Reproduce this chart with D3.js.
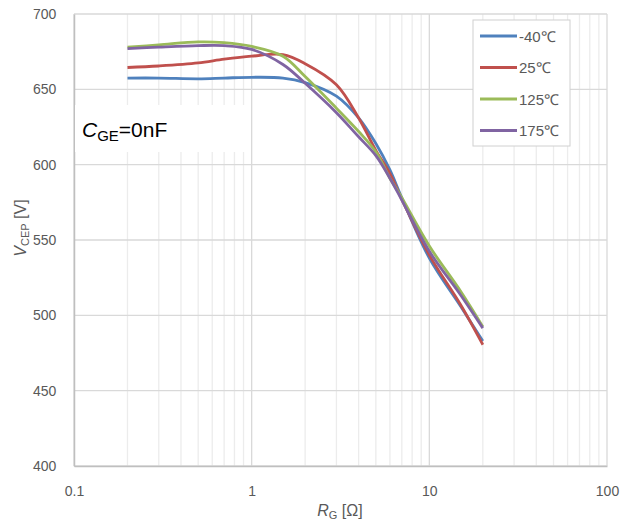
<!DOCTYPE html>
<html><head><meta charset="utf-8">
<script src="https://cdn.jsdelivr.net/npm/d3@7"></script>
<style>body{margin:0;background:#fff;} svg{display:block;font-family:"Liberation Sans",Arial,sans-serif;}</style>
</head><body>
<svg id="c" width="622" height="522"></svg>
<script>
const rg = [0.2, 0.3, 0.5, 0.7, 1, 1.5, 2, 3, 4, 5, 6, 7, 10, 15, 20];
const vM40 = [657.5, 657.5, 657, 657.5, 658, 657.5, 654.5, 645.5, 631, 614, 596.5, 578, 538, 506, 483];
const v25  = [664.5, 665.5, 667.5, 670, 672, 673, 667, 653, 631, 609.5, 594, 577, 540, 507, 480.5];
const v125 = [678, 679.5, 681.5, 681, 678.5, 672, 658.5, 637.5, 622, 608.5, 591, 578, 546, 516, 492.5];
const v175 = [677, 678, 679, 679, 676.5, 666.5, 654, 634.5, 618.5, 606, 591, 576.5, 542.5, 513.5, 491.5];
const seriesNames = ["-40℃", "25℃", "125℃", "175℃"];
const seriesValues = [vM40, v25, v125, v175];
const colors = ["#4F81BD", "#C0504D", "#9BBB59", "#8064A2"];
const xTicks = [0.1, 1, 10, 100];
const yTicks = [400, 450, 500, 550, 600, 650, 700];

const svg = d3.select("#c");
const L = 74, R = 607, T = 14, B = 466;
const x = d3.scaleLog().domain([0.1, 100]).range([L, R]);
const y = d3.scaleLinear().domain([400, 700]).range([B, T]);

// minor vertical grid
const minor = [];
for (let d = 0.1; d < 100; d *= 10) for (let k = 2; k <= 9; k++) minor.push(+(d * k).toPrecision(3));
svg.append("g").selectAll("line").data(minor).join("line")
  .attr("x1", d => x(d)).attr("x2", d => x(d)).attr("y1", T).attr("y2", B)
  .attr("stroke", "#ececec").attr("stroke-width", 1.3);
svg.append("g").selectAll("line").data(xTicks).join("line")
  .attr("x1", d => x(d)).attr("x2", d => x(d)).attr("y1", T).attr("y2", B)
  .attr("stroke", "#d9d9d9").attr("stroke-width", 1.3);
svg.append("g").selectAll("line").data(yTicks).join("line")
  .attr("x1", L).attr("x2", R).attr("y1", d => y(d)).attr("y2", d => y(d))
  .attr("stroke", "#d9d9d9").attr("stroke-width", 1.3);

// axes
const xAxis = d3.axisBottom(x).tickValues(xTicks).tickSize(0).tickFormat(d => String(d));
const gx = svg.append("g").attr("transform", `translate(0,${B})`).call(xAxis);
gx.select(".domain").attr("stroke", "#bfbfbf").attr("stroke-width", 1.5);
gx.selectAll("text").attr("font-size", 14).attr("fill", "#595959").attr("dy", "1.9em");
const yAxis = d3.axisLeft(y).tickValues(yTicks).tickSize(0);
const gy = svg.append("g").attr("transform", `translate(${L},0)`).call(yAxis);
gy.select(".domain").attr("stroke", "#bfbfbf").attr("stroke-width", 1.5);
gy.selectAll("text").attr("font-size", 14).attr("fill", "#595959").attr("dx", "-1.05em");

// C_GE label with white background
svg.append("rect").attr("x", L + 1).attr("y", 105).attr("width", 170).attr("height", 47).attr("fill", "#fff");
const cl = svg.append("text").attr("x", 82).attr("y", 137).attr("font-size", 21).attr("fill", "#000");
cl.append("tspan").attr("font-style", "italic").text("C");
cl.append("tspan").attr("font-size", 15).attr("dy", 4).text("GE");
cl.append("tspan").attr("dy", -4).text("=0nF");

// lines
const line = d3.line().x(d => x(d[0])).y(d => y(d[1])).curve(d3.curveCatmullRom.alpha(0.5));
seriesValues.forEach((vals, i) => {
  svg.append("path").datum(rg.map((r, j) => [r, vals[j]]))
    .attr("d", line).attr("fill", "none").attr("stroke", colors[i])
    .attr("stroke-width", 2.8).attr("stroke-linejoin", "round");
});

// legend
const lg = svg.append("g");
lg.append("rect").attr("x", 473).attr("y", 20).attr("width", 97).attr("height", 126)
  .attr("fill", "#fff").attr("stroke", "#d0d0d0").attr("stroke-width", 1);
seriesNames.forEach((n, i) => {
  const yy = 36 + i * 31.5;
  lg.append("line").attr("x1", 480).attr("x2", 517).attr("y1", yy).attr("y2", yy)
    .attr("stroke", colors[i]).attr("stroke-width", 2.8);
  lg.append("text").attr("x", 519).attr("y", yy + 5.5).attr("font-size", 15).attr("fill", "#595959").text(n);
});

// axis titles
const xt = svg.append("text").attr("x", 340).attr("y", 516).attr("text-anchor", "middle")
  .attr("font-size", 16).attr("fill", "#595959");
xt.append("tspan").attr("font-style", "italic").text("R");
xt.append("tspan").attr("font-size", 11).attr("dy", 3).text("G");
xt.append("tspan").attr("dy", -3).text(" [Ω]");

const yt = svg.append("text").attr("transform", "translate(26,228) rotate(-90)").attr("text-anchor", "middle")
  .attr("font-size", 16).attr("fill", "#595959");
yt.append("tspan").attr("font-style", "italic").text("V");
yt.append("tspan").attr("font-size", 11).attr("dy", 3).text("CEP");
yt.append("tspan").attr("dy", -3).text(" [V]");
</script>
</body></html>
